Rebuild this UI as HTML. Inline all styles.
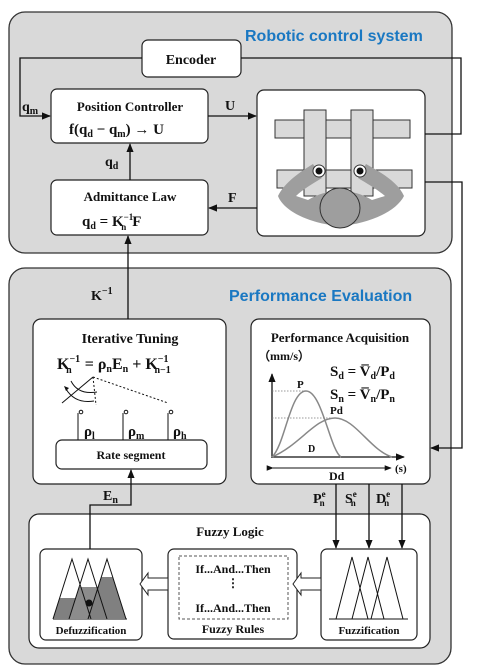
<!DOCTYPE html>
<html><head><meta charset="utf-8"><style>
body{margin:0;background:#fff}
svg{display:block}
text{font-family:"Liberation Serif",serif;font-weight:bold;fill:#111}
.t{font-family:"Liberation Sans",sans-serif;fill:#1a78c2;font-weight:bold}
</style></head><body>
<svg width="489" height="672" viewBox="0 0 489 672" xmlns="http://www.w3.org/2000/svg">
<defs>
<marker id="a" viewBox="0 0 10 10" refX="9" refY="5" markerWidth="7" markerHeight="7" orient="auto"><path d="M0,1 L10,5 L0,9 z" fill="#111"/></marker>
<clipPath id="c1"><rect x="40" y="598" width="120" height="30"/></clipPath>
<clipPath id="c2"><rect x="40" y="587" width="120" height="40"/></clipPath>
<clipPath id="c3"><rect x="40" y="577" width="120" height="50"/></clipPath>
</defs>
<g stroke="#333" stroke-width="1.3">
<rect x="9" y="12" width="443" height="241" rx="16" fill="#d9d9d9"/>
<rect x="9" y="268" width="442" height="396" rx="16" fill="#d9d9d9"/>
</g>
<text class="t" x="245" y="41" font-size="16">Robotic control system</text>
<text class="t" x="229" y="301" font-size="16">Performance Evaluation</text>

<g stroke="#222" stroke-width="1.2" fill="#fff">
<rect x="142" y="40" width="99" height="37" rx="6"/>
<rect x="51" y="89" width="157" height="54" rx="6"/>
<rect x="51" y="180" width="157" height="55" rx="6"/>
<rect x="257" y="90" width="168" height="146" rx="7"/>
<rect x="33" y="319" width="193" height="165" rx="8"/>
<rect x="251" y="319" width="179" height="165" rx="8"/>
<rect x="29" y="514" width="401" height="134" rx="10"/>
<rect x="40" y="549" width="102" height="91" rx="6"/>
<rect x="168" y="549" width="129" height="90" rx="6"/>
<rect x="321" y="549" width="96" height="91" rx="6"/>
<rect x="56" y="440" width="151" height="29" rx="6"/>
</g>
<text x="191" y="64" font-size="14" text-anchor="middle">Encoder</text>
<text x="130" y="111" font-size="13" text-anchor="middle">Position Controller</text>
<text x="69" y="134" font-size="15">f(q<tspan font-size="10" dy="3">d</tspan><tspan dy="-3"> − q</tspan><tspan font-size="10" dy="3">m</tspan><tspan dy="-3">) → U</tspan></text>
<text x="130" y="201" font-size="13" text-anchor="middle">Admittance Law</text>
<text x="82" y="226" font-size="15">q<tspan font-size="10" dy="3">d</tspan><tspan dy="-3"> = K</tspan><tspan font-size="9" dy="-6">−1</tspan><tspan font-size="9" dx="-12" dy="10">n</tspan><tspan dx="6" dy="-4">F</tspan></text>

<g stroke="#111" stroke-width="1.3" fill="none">
<path d="M142,58 H20 V116 H50" marker-end="url(#a)"/>
<path d="M208,116 H256" marker-end="url(#a)"/>
<path d="M257,208 H209" marker-end="url(#a)"/>
<path d="M130,180 V144" marker-end="url(#a)"/>
<path d="M425,134 H461 V58 H241"/>
<path d="M425,182 H462 V448 H431" marker-end="url(#a)"/>
<path d="M128,319 V236" marker-end="url(#a)"/>
<path d="M90,549 V505 H131 V470" marker-end="url(#a)"/>
<path d="M336,484 V548" marker-end="url(#a)"/>
<path d="M369,484 V548" marker-end="url(#a)"/>
<path d="M402,484 V548" marker-end="url(#a)"/>
</g>
<text x="22" y="111" font-size="14">q<tspan font-size="10" dy="3">m</tspan></text>
<text x="225" y="110" font-size="14">U</text>
<text x="105" y="166" font-size="14">q<tspan font-size="10" dy="3">d</tspan></text>
<text x="228" y="202" font-size="14">F</text>
<text x="91" y="300" font-size="14">K<tspan font-size="10" dy="-6">−1</tspan></text>
<text x="103" y="500" font-size="14">E<tspan font-size="10" dy="3">n</tspan></text>
<text x="313" y="503" font-size="14">P<tspan font-size="9" dy="-6">e</tspan><tspan font-size="9" dx="-6" dy="9">n</tspan></text>
<text x="345" y="503" font-size="14">S<tspan font-size="9" dy="-6">e</tspan><tspan font-size="9" dx="-6" dy="9">n</tspan></text>
<text x="376" y="503" font-size="14">D<tspan font-size="9" dy="-6">e</tspan><tspan font-size="9" dx="-6" dy="9">n</tspan></text>

<!-- robot -->
<g stroke="#333" stroke-width="1" fill="#d9d9d9">
<rect x="275" y="120" width="135" height="18"/>
<rect x="277" y="170" width="135" height="18"/>
<rect x="304" y="110" width="22" height="86"/>
<rect x="351" y="110" width="22" height="86"/>
</g>
<path d="M313,164 C300,172 285,182 278,196 C284,212 312,224 340,226 C368,224 396,212 404,196 C398,182 380,172 366,164 L358,178 C368,184 378,190 385,196 L372,200 C362,194 352,191 340,191 C328,191 318,194 308,200 L296,196 C302,190 312,184 322,178 Z" fill="#9e9e9e"/>
<circle cx="340" cy="208" r="20" fill="#9e9e9e" stroke="#333"/>
<circle cx="319" cy="171" r="6" fill="#fff" stroke="#333"/><circle cx="319" cy="171" r="3.5" fill="#111"/>
<circle cx="360" cy="171" r="6" fill="#fff" stroke="#333"/><circle cx="360" cy="171" r="3.5" fill="#111"/>

<!-- iterative tuning -->
<text x="130" y="343" font-size="14" text-anchor="middle">Iterative Tuning</text>
<text x="57" y="369" font-size="16">K<tspan font-size="10" dy="-7">−1</tspan><tspan font-size="10" dx="-14" dy="11">n</tspan><tspan dx="9" dy="-4"> = ρ</tspan><tspan font-size="10" dy="3">n</tspan><tspan dy="-3">E</tspan><tspan font-size="10" dy="3">n</tspan><tspan dy="-3"> + K</tspan><tspan font-size="10" dy="-7">−1</tspan><tspan font-size="10" dx="-14" dy="11">n−1</tspan></text>
<g stroke="#111" stroke-width="1" fill="none">
<line x1="93" y1="377" x2="62" y2="403"/>
<line x1="93" y1="377" x2="96" y2="405" stroke-dasharray="2,2"/>
<line x1="93" y1="377" x2="168" y2="403" stroke-dasharray="2,2"/>
<path d="M71,381 Q78,395 97,392"/>
<path d="M66,389 Q75,404 94,401"/>
<path d="M78,413 V440 M123,413 V440 M168,413 V440"/>
<circle cx="81" cy="412" r="1.8" fill="#fff"/><circle cx="126" cy="412" r="1.8" fill="#fff"/><circle cx="171" cy="412" r="1.8" fill="#fff"/>
</g>
<path d="M66,391 l-2,-5 l5,2z" fill="#111"/>
<text x="84" y="436" font-size="15">ρ<tspan font-size="10" dy="3">l</tspan></text>
<text x="128" y="436" font-size="15">ρ<tspan font-size="10" dy="3">m</tspan></text>
<text x="173" y="436" font-size="15">ρ<tspan font-size="10" dy="3">h</tspan></text>
<text x="131" y="459" font-size="12" text-anchor="middle">Rate segment</text>

<!-- performance acquisition -->
<text x="340" y="342" font-size="13" text-anchor="middle">Performance Acquisition</text>
<text x="258" y="360" font-size="12">（mm/s）</text>
<text x="330" y="376" font-size="15">S<tspan font-size="10" dy="3">d</tspan><tspan dy="-3"> = V̅</tspan><tspan font-size="10" dy="3">d</tspan><tspan dy="-3">/P</tspan><tspan font-size="10" dy="3">d</tspan></text>
<text x="330" y="399" font-size="15">S<tspan font-size="10" dy="3">n</tspan><tspan dy="-3"> = V̅</tspan><tspan font-size="10" dy="3">n</tspan><tspan dy="-3">/P</tspan><tspan font-size="10" dy="3">n</tspan></text>
<g fill="none">
<path d="M272,458 V374" stroke="#111" stroke-width="1.3" marker-end="url(#a)"/>
<path d="M272,457 H404" stroke="#111" stroke-width="1.3" marker-end="url(#a)"/>
<path d="M273,468 H391" stroke="#111" stroke-width="1" marker-start="url(#a)" marker-end="url(#a)"/>
<path d="M272,391 H306 M272,418 H335" stroke="#777" stroke-width="0.8" stroke-dasharray="1.5,1.5"/>
<path d="M272,457 C285,445 290,391 306,391 C322,391 330,450 341,457" stroke="#888" stroke-width="1.5"/>
<path d="M272,457 C300,445 315,418 335,418 C355,418 370,450 392,457" stroke="#888" stroke-width="1.5"/>
</g>
<text x="297" y="388" font-size="11">P</text>
<text x="330" y="414" font-size="11">Pd</text>
<text x="308" y="452" font-size="10">D</text>
<text x="329" y="480" font-size="12">Dd</text>
<text x="395" y="472" font-size="11">(s)</text>

<!-- fuzzy -->
<text x="230" y="536" font-size="13" text-anchor="middle">Fuzzy Logic</text>
<rect x="179" y="556" width="109" height="63" fill="none" stroke="#555" stroke-dasharray="3,2"/>
<text x="233" y="573" font-size="12" text-anchor="middle">If...And...Then</text>
<text x="233" y="587" font-size="12" text-anchor="middle">⋮</text>
<text x="233" y="612" font-size="12" text-anchor="middle">If...And...Then</text>
<text x="233" y="633" font-size="12" text-anchor="middle">Fuzzy Rules</text>
<text x="91" y="634" font-size="11" text-anchor="middle">Defuzzification</text>
<text x="369" y="634" font-size="11" text-anchor="middle">Fuzzification</text>
<g fill="#fff" stroke="#222" stroke-width="1">
<path d="M168,578 H148 V573 L140,584 L148,595 V590 H168 Z"/>
<path d="M321,578 H301 V573 L293,584 L301,595 V590 H321 Z"/>
</g>
<g fill="none" stroke="#111" stroke-width="1">
<path d="M329,619 H408"/>
<path d="M336,619 L352,557 L368,619 M352,619 L368,557 L384,619 M371,619 L387,557 L403,619"/>
<path d="M53,619 H127"/>
</g>
<path d="M53,619 L72,559 L91,619Z" fill="#808080" clip-path="url(#c1)"/>
<path d="M69,619 L88,559 L107,619Z" fill="#8c8c8c" clip-path="url(#c2)"/>
<path d="M88,619 L107,559 L126,619Z" fill="#808080" clip-path="url(#c3)"/>
<g fill="none" stroke="#111" stroke-width="1">
<path d="M53,619 L72,559 L91,619 M69,619 L88,559 L107,619 M88,619 L107,559 L126,619"/>
</g>
<circle cx="89" cy="603" r="3.5" fill="#111"/>
</svg>
</body></html>
